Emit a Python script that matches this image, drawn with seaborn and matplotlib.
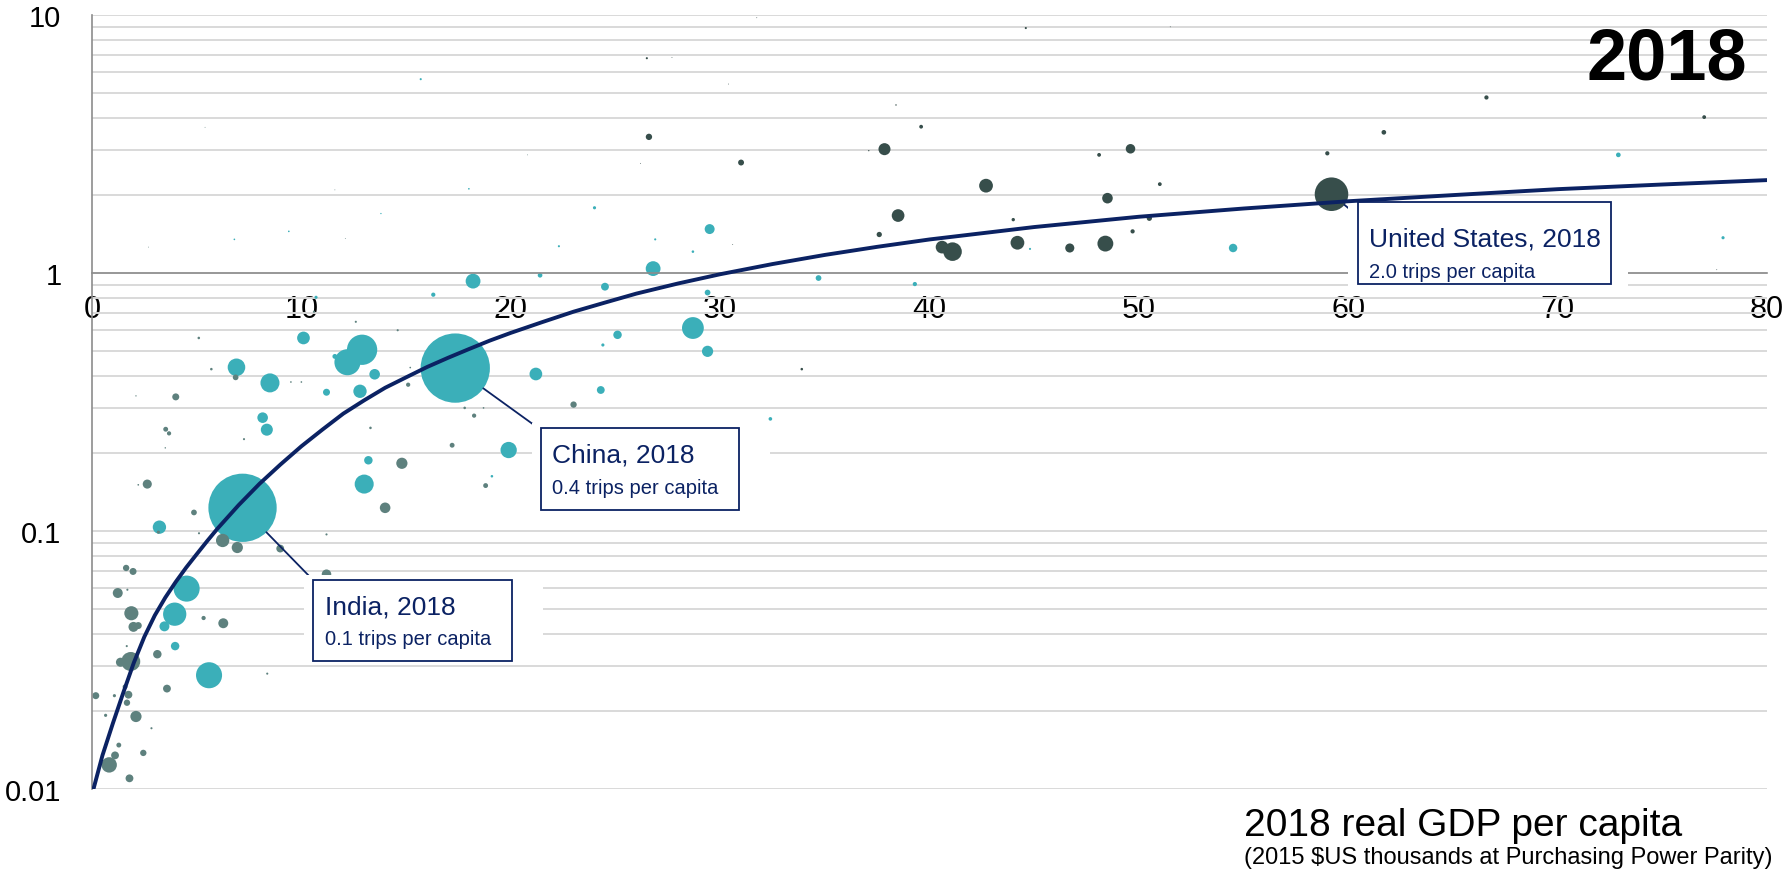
import matplotlib
matplotlib.use("Agg")
import matplotlib.pyplot as plt
from matplotlib.patches import Rectangle
from matplotlib.ticker import FixedLocator, LogLocator, NullFormatter
import numpy as np
import pandas as pd
import seaborn as sns

sns.set_style("white")
plt.rcParams['font.family'] = ['Liberation Sans', 'DejaVu Sans']
plt.rcParams['text.color'] = 'black'

# values: GDP per capita (2015 $US k, PPP), trips per capita, population (millions)
teal_gdp = [15.7, 24.0, 29.5, 26.8, 26.9, 28.7, 22.3, 18.0, 13.8, 9.4, 6.8, 21.4, 18.2, 24.5,
            29.4, 29.6, 34.7, 39.3, 44.8, 54.5, 72.9, 77.9, 16.3, 10.7, 10.1, 12.9, 12.2, 11.6,
            13.5, 6.9, 8.5, 11.2, 12.8, 8.15, 8.35, 13.2, 13.0, 17.35, 21.2, 24.3, 25.1, 24.4,
            28.7, 29.4, 32.4, 19.9, 19.1, 7.19, 3.22, 4.52, 3.95, 3.46, 3.97, 5.59]
teal_trips = [5.64, 1.79, 1.48, 1.04, 1.35, 1.21, 1.27, 2.12, 1.70, 1.45, 1.35, 0.98, 0.93, 0.885,
              0.84, 0.97, 0.956, 0.906, 1.24, 1.25, 2.87, 1.37, 0.824, 0.805, 0.56, 0.504, 0.451, 0.475,
              0.405, 0.431, 0.375, 0.345, 0.348, 0.275, 0.247, 0.188, 0.152, 0.428, 0.406, 0.352, 0.576, 0.526,
              0.612, 0.497, 0.272, 0.206, 0.163, 0.123, 0.1035, 0.0598, 0.0476, 0.0427, 0.0358, 0.0276]
teal_pop = [1.3, 2.9, 28.7, 63.7, 1.3, 1.9, 1.3, 0.8, 0.5, 0.8, 0.8, 6.3, 63.7, 17.8,
            9.5, 1.3, 9.5, 5.2, 1.3, 20.8, 6.3, 2.9, 5.2, 2.9, 46.8, 266, 197, 6.9,
            32.5, 89.6, 105, 14.2, 51.6, 32.5, 42, 20.8, 105, 1393, 46.8, 17.8, 20.8, 2.9,
            138, 36.5, 3.8, 77, 1.9, 1353, 51.6, 197, 157, 28.7, 20.8, 197]

gray_gdp = [15.1, 15.2, 14.6, 12.6, 10.6, 5.1, 5.7, 6.86, 9.5, 10.0, 4.0, 2.1, 3.52, 3.68,
            7.26, 3.5, 13.3, 23.0, 17.8, 18.7, 18.25, 17.2, 14.8, 18.8, 14.0, 11.2, 11.2, 2.64,
            2.21, 4.87, 3.17, 5.11, 6.24, 6.94, 8.99, 1.63, 1.96, 1.23, 1.69, 1.88, 1.98, 2.21,
            5.33, 6.27, 1.66, 1.85, 1.36, 3.12, 8.37, 0.18, 1.07, 1.58, 1.74, 1.67, 3.58, 0.65,
            2.1, 2.84, 1.28, 1.1, 0.82, 2.45, 1.79, 5.4, 2.7, 12.1, 11.6, 20.8]
gray_trips = [0.369, 0.43, 0.60, 0.647, 0.708, 0.56, 0.424, 0.394, 0.378, 0.378, 0.331, 0.334, 0.248, 0.239,
              0.227, 0.21, 0.251, 0.309, 0.30, 0.30, 0.28, 0.215, 0.183, 0.15, 0.123, 0.068, 0.097, 0.152,
              0.151, 0.118, 0.099, 0.098, 0.0919, 0.0863, 0.0855, 0.0719, 0.0697, 0.0575, 0.0592, 0.048, 0.0425, 0.043,
              0.046, 0.0439, 0.0358, 0.0312, 0.031, 0.0333, 0.028, 0.023, 0.023, 0.0249, 0.0232, 0.0216, 0.0245, 0.0193,
              0.0191, 0.0172, 0.0148, 0.0135, 0.0124, 0.0138, 0.011, 3.67, 1.26, 1.36, 2.1, 2.87]
gray_pop = [5.2, 0.8, 1.3, 1.3, 1.3, 1.9, 1.9, 9.5, 0.8, 0.8, 14.2, 0.5, 6.9, 5.2,
            1.3, 0.6, 1.9, 11.7, 1.9, 0.8, 5.2, 6.9, 36.5, 6.9, 32.5, 26.3, 1.3, 24,
            0.8, 9.5, 2.9, 1.3, 51.6, 36.5, 17.8, 11.7, 14.2, 28.7, 1.3, 58, 28.7, 14.2,
            5.2, 28.7, 1.3, 105, 24, 20.8, 1.3, 14.2, 2.9, 6.9, 17.8, 11.7, 17.8, 2.9,
            36.5, 1.3, 6.9, 17.8, 69, 11.7, 17.8, 0.2, 0.2, 0.2, 0.2, 0.2]

dark_gdp = [26.5, 44.6, 66.6, 77.0, 61.7, 39.6, 38.4, 26.6, 37.85, 49.6, 48.1, 59.0, 31.0, 42.7,
            51.0, 48.5, 38.5, 44.0, 59.2, 50.5, 49.7, 37.6, 40.6, 41.1, 44.2, 46.7, 48.4, 33.9,
            37.1, 31.75, 51.5, 30.4, 27.7, 26.2, 30.6, 77.6]
dark_trips = [6.8, 8.9, 4.79, 4.02, 3.51, 3.69, 4.48, 3.37, 3.02, 3.03, 2.87, 2.91, 2.68, 2.18,
              2.21, 1.95, 1.67, 1.61, 2.02, 1.63, 1.45, 1.41, 1.26, 1.21, 1.31, 1.25, 1.30, 0.424,
              2.98, 9.76, 9.0, 5.4, 6.84, 2.66, 1.29, 1.03]
dark_pop = [1.3, 1.3, 5.2, 4.2, 6.3, 4.2, 0.6, 11.7, 42, 26.3, 4.2, 5.2, 10.2, 55,
            4.2, 32.5, 46.8, 3.3, 327, 8.1, 5.2, 8.1, 46.8, 100, 55, 24, 73, 1.9,
            0.5, 0.2, 0.2, 0.2, 0.2, 0.2, 0.2, 0.2]

# fitted trend line
curve_gdp = [0.07, 0.5, 1, 1.5, 2, 2.5, 3, 3.5, 4, 4.5, 5, 5.5, 6, 7, 8, 9, 10, 11, 12, 13, 14, 15,
             16, 17, 18, 19, 20, 21.5, 23, 24.5, 26, 28, 30, 32.5, 35, 37.5, 40, 45, 50, 55, 60,
             65, 70, 75, 80]
curve_trips = [0.01, 0.0135, 0.018, 0.0237, 0.0309, 0.0389, 0.0471, 0.0552, 0.0635, 0.0722,
               0.0813, 0.0914, 0.1023, 0.1259, 0.1524, 0.181, 0.213, 0.247, 0.285, 0.321, 0.359,
               0.394, 0.432, 0.469, 0.507, 0.547, 0.586, 0.645, 0.708, 0.768, 0.832, 0.911,
               0.989, 1.083, 1.175, 1.263, 1.349, 1.507, 1.652, 1.778, 1.897, 2.004, 2.113,
               2.203, 2.291]

callouts = [("India", 7.19, 0.123, 1353, "0.1"),
            ("China", 17.35, 0.428, 1393, "0.4"),
            ("United States", 59.2, 2.02, 327, "2.0")]

NAVY = "#0b2263"
palette = {"Asia & Latin America": "#3bafb9", "Africa": "#5e817e", "Europe & North America": "#374e4b"}

df = pd.concat([
    pd.DataFrame({"gdp": teal_gdp, "trips": teal_trips, "pop": teal_pop, "region": "Asia & Latin America"}),
    pd.DataFrame({"gdp": gray_gdp, "trips": gray_trips, "pop": gray_pop, "region": "Africa"}),
    pd.DataFrame({"gdp": dark_gdp, "trips": dark_trips, "pop": dark_pop, "region": "Europe & North America"}),
]).sort_values("pop", ascending=False)

W, H, DPI = 1789, 879, 100
def fx(px):
    return px / W
def fy(py):
    return 1 - py / H

# bubble area in pt^2 per million people
SCALE = 1.12 * (2 * 72 / DPI) ** 2 / 1.3

fig = plt.figure(figsize=(W / DPI, H / DPI), dpi=DPI)
ax = fig.add_axes([fx(92), fy(790), fx(1767) - fx(92), fy(16) - fy(790)])

pmin, pmax = df["pop"].min(), df["pop"].max()
sns.scatterplot(data=df, x="gdp", y="trips", hue="region", palette=palette, size="pop",
                sizes=(SCALE * pmin, SCALE * pmax), size_norm=(pmin, pmax),
                linewidth=0, alpha=1, legend=False, ax=ax, zorder=2)
sns.lineplot(x=curve_gdp, y=curve_trips, color=NAVY, lw=2.8, sort=False, estimator=None,
             ax=ax, zorder=6)

ax.set_yscale("log")
ax.set_ylim(0.01, 10)
ax.set_xlim(0, 80)
ax.set_xlabel("")
ax.set_ylabel("")

ax.yaxis.set_major_locator(FixedLocator([0.01, 0.1, 1, 10]))
ax.set_yticklabels(["0.01", "0.1", "1", "10"])
ax.yaxis.set_minor_locator(LogLocator(base=10, subs=range(2, 10)))
ax.yaxis.set_minor_formatter(NullFormatter())
ax.tick_params(axis="y", which="minor", length=0)
ax.tick_params(axis="y", which="major", length=6, width=1.1, color="#8c8c8c", labelcolor="black",
               labelsize=21, pad=16, direction="out")
ax.set_xticks(range(0, 81, 10))
ax.tick_params(axis="x", length=7, width=1.1, color="#8c8c8c", labelcolor="black",
               labelsize=22, pad=8, direction="out")

for side in ["top", "right"]:
    ax.spines[side].set_visible(False)
ax.spines["bottom"].set_position(("data", 1))
for side in ["left", "bottom"]:
    ax.spines[side].set_color("#8c8c8c")
    ax.spines[side].set_linewidth(1.2)

ax.grid(axis="y", which="both", color="#d9d9d9", lw=1.4)
ax.grid(axis="x", visible=False)
ax.set_axisbelow(True)

# call-out boxes: (white area, bordered box, text left, baseline 1, baseline 2, leader end)
boxes = [((304, 576, 543, 664), (313, 581, 512, 662), 325, 614, 645, (313, 581)),
         ((532, 424, 770, 515), (541, 429, 739, 511), 552, 463, 494, (541, 431)),
         ((1348, 198, 1628, 289), (1358, 203, 1611, 285), 1369, 247, 278, (1358, 217))]

for (name, gx, ty, pop, trips), (white, border, tx, b1, b2, lead) in zip(callouts, boxes):
    x0, y0, x1, y1 = white
    ax.add_patch(Rectangle((fx(x0), fy(y1)), fx(x1) - fx(x0), fy(y0) - fy(y1),
                           transform=fig.transFigure, facecolor="white", edgecolor="none",
                           zorder=4, clip_on=False))
    x0, y0, x1, y1 = border
    ax.add_patch(Rectangle((fx(x0), fy(y1)), fx(x1) - fx(x0), fy(y0) - fy(y1),
                           transform=fig.transFigure, facecolor="white", edgecolor=NAVY,
                           lw=1.3, zorder=5, clip_on=False))
    r_pt = np.sqrt(SCALE * pop) / 2
    ax.annotate("", xy=(gx, ty), xycoords="data", xytext=(lead[0], H - lead[1]),
                textcoords="figure pixels",
                arrowprops=dict(arrowstyle="-", color=NAVY, lw=1.3, shrinkA=0, shrinkB=r_pt),
                zorder=3)
    fig.text(fx(tx), fy(b1), f"{name}, 2018", fontsize=19, color=NAVY, va="baseline")
    fig.text(fx(tx), fy(b2), f"{trips} trips per capita", fontsize=14.5, color=NAVY, va="baseline")

fig.text(fx(1747), fy(79), "2018", fontsize=52, fontweight="bold", ha="right", va="baseline")
fig.text(fx(1244), fy(836), "2018 real GDP per capita", fontsize=28, va="baseline")
fig.text(fx(1244), fy(864), r"(2015 \$US thousands at Purchasing Power Parity)", fontsize=17, va="baseline")

fig.savefig("out.png", dpi=DPI)
